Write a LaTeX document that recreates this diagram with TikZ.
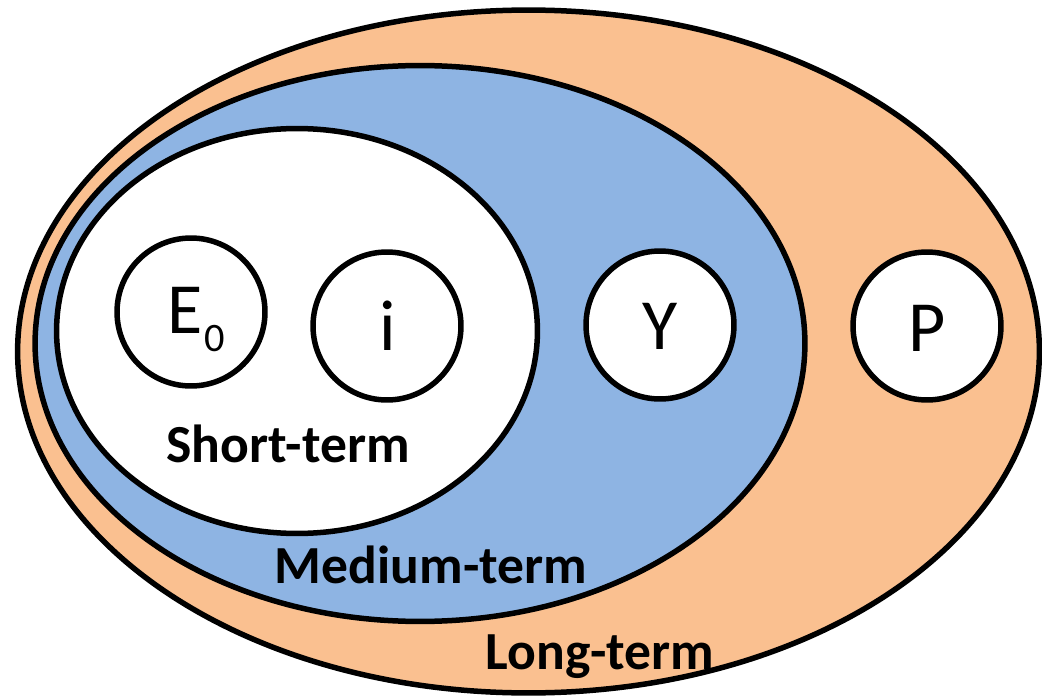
\documentclass[tikz,border=0pt]{standalone}
\usepackage{fontspec}
\setmainfont{Carlito}
\usetikzlibrary{shapes.geometric}
\definecolor{longc}{HTML}{FAC090}
\definecolor{medc}{HTML}{8EB4E3}
\begin{document}
\begin{tikzpicture}[x=0.02cm,y=-0.02cm,
  ring/.style={ellipse, draw=black, line width=0.11cm, inner sep=0pt, outer sep=0pt},
  var/.style={circle, draw=black, fill=white, line width=0.11cm, minimum size=2.96cm, inner sep=0pt},
  lbl/.style={font=\fontsize{30.5}{32}\selectfont\bfseries, anchor=base, inner sep=0pt},
  sym/.style={font=\fontsize{41}{44}\selectfont, anchor=base, inner sep=0pt}]
\useasboundingbox (0,0) rectangle (1042,696);
\node[ring, fill=longc, minimum width=20.44cm, minimum height=13.66cm] (long) at (528.5,351.5) {};
\node[ring, fill=medc, minimum width=15.4cm, minimum height=11.12cm] (medium) at (420,343.5) {};
\node[ring, fill=white, minimum width=9.62cm, minimum height=8.1cm] (short) at (297,331) {};
\node[var] (cE) at (191,312) {};
\node[var] (ci) at (387,326) {};
\node[var] (cY) at (660,325) {};
\node[var] (cP) at (927,326) {};
\node[sym] (tE) at (196.5,333) {E\kern1pt\raisebox{-10.8pt}{\fontsize{23}{24}\selectfont 0}};
\node[sym] (ti) at (388,350) {i};
\node[sym] (tY) at (660,349) {Y};
\node[sym] (tP) at (927,351) {P};
\node[lbl] (lshort) at (288,462) {Short-term};
\node[lbl] (lmed) at (431,583) {Medium-term};
\node[lbl] (llong) at (600,669) {Long-term};
\end{tikzpicture}
\end{document}
